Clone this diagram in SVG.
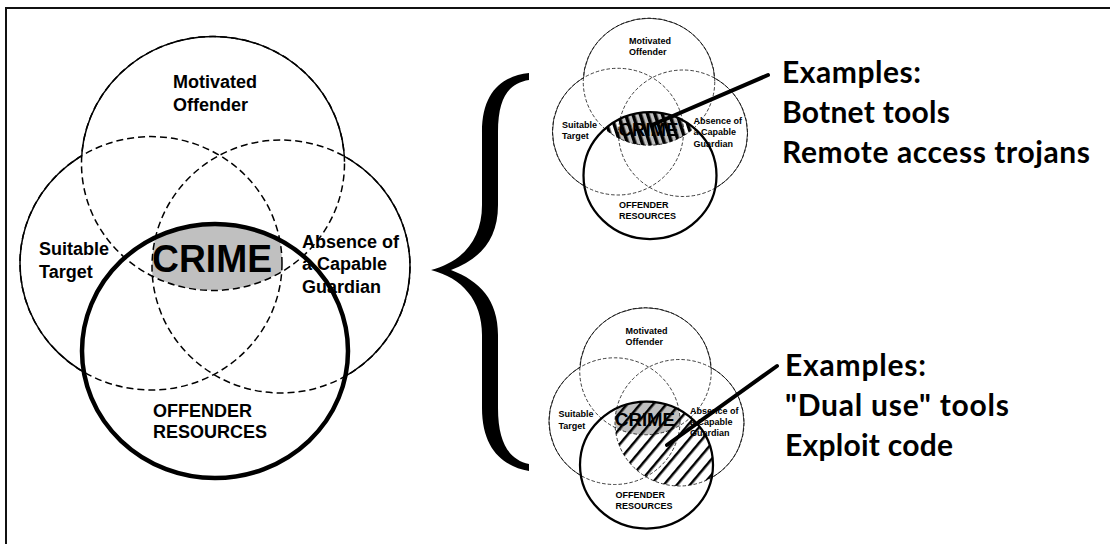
<svg xmlns="http://www.w3.org/2000/svg" xmlns:xlink="http://www.w3.org/1999/xlink" width="1110" height="544" viewBox="0 0 1110 544">
  <style>
    .lbl { font-family: "Liberation Sans", Arial, sans-serif; font-weight: bold; font-size: 18px; fill: #000; }
    .crime { font-family: "Liberation Sans", Arial, sans-serif; font-weight: bold; font-size: 38px; fill: #000; }
    .ex { font-family: Lato, "Open Sans", sans-serif; font-weight: bold; font-size: 30px; fill: #000; }
    .thin { fill: none; stroke: #000; stroke-width: 1.5; }
    .dash { fill: none; stroke: #000; stroke-width: 1.5; stroke-dasharray: 7 4; }
    .thick { fill: none; stroke: #000; stroke-width: 4.5; }
    .conn { stroke: #000; stroke-width: 4; stroke-linecap: round; fill: none; }
  </style>
  <defs>
    <!-- the four overlapping sets, in base (large) coordinates -->
    <ellipse id="eM" cx="213" cy="163.5" rx="131.5" ry="127"/>
    <ellipse id="eL" cx="151" cy="263.3" rx="131" ry="126.7"/>
    <ellipse id="eR" cx="281" cy="266.5" rx="129" ry="126.5"/>
    <ellipse id="eT" cx="215" cy="351" rx="133" ry="127"/>

    <clipPath id="cM" clipPathUnits="userSpaceOnUse"><use href="#eM"/></clipPath>
    <clipPath id="cL" clipPathUnits="userSpaceOnUse"><use href="#eL"/></clipPath>
    <clipPath id="cR" clipPathUnits="userSpaceOnUse"><use href="#eR"/></clipPath>
    <clipPath id="cT" clipPathUnits="userSpaceOnUse"><use href="#eT"/></clipPath>

    <!-- solid outline only where a set lies outside all the others -->
    <mask id="outM" maskUnits="userSpaceOnUse" x="-50" y="-50" width="600" height="650">
      <rect x="-50" y="-50" width="600" height="650" fill="#fff"/>
      <use href="#eL" fill="#000"/><use href="#eR" fill="#000"/><use href="#eT" fill="#000"/>
    </mask>
    <mask id="outL" maskUnits="userSpaceOnUse" x="-50" y="-50" width="600" height="650">
      <rect x="-50" y="-50" width="600" height="650" fill="#fff"/>
      <use href="#eM" fill="#000"/><use href="#eR" fill="#000"/><use href="#eT" fill="#000"/>
    </mask>
    <mask id="outR" maskUnits="userSpaceOnUse" x="-50" y="-50" width="600" height="650">
      <rect x="-50" y="-50" width="600" height="650" fill="#fff"/>
      <use href="#eM" fill="#000"/><use href="#eL" fill="#000"/><use href="#eT" fill="#000"/>
    </mask>

    <pattern id="hatchA" patternUnits="userSpaceOnUse" width="14" height="14" patternTransform="rotate(-18)">
      <rect x="0" y="0" width="7" height="14" fill="#000"/>
    </pattern>
    <pattern id="hatchB" patternUnits="userSpaceOnUse" width="20" height="20" patternTransform="rotate(40)">
      <rect x="0" y="0" width="5" height="20" fill="#000"/>
    </pattern>

    <!-- shaded CRIME area: intersection of all four sets -->
    <g id="crimeFill">
      <g clip-path="url(#cM)"><g clip-path="url(#cL)"><g clip-path="url(#cR)">
        <use href="#eT" fill="#c0c0c0"/>
      </g></g></g>
    </g>

    <!-- outlines of the four sets -->
    <g id="outlines">
      <use href="#eM" class="dash"/>
      <use href="#eL" class="dash"/>
      <use href="#eR" class="dash"/>
      <use href="#eM" class="thin" mask="url(#outM)"/>
      <use href="#eL" class="thin" mask="url(#outL)"/>
      <use href="#eR" class="thin" mask="url(#outR)"/>
      <use href="#eT" class="thick"/>
    </g>
  </defs>

  <!-- frame -->
  <g id="frame">
    <path d="M6,544 V8 H1110" fill="none" stroke="#111" stroke-width="2"/>
  </g>

  <!-- large routine-activity diagram -->
  <g id="venn-main">
    <use href="#crimeFill"/>
    <use href="#outlines"/>
    <text class="lbl" x="173" y="88">Motivated</text>
    <text class="lbl" x="173" y="110.5">Offender</text>
    <text class="lbl" x="39" y="255">Suitable</text>
    <text class="lbl" x="39" y="278">Target</text>
    <text class="lbl" x="302" y="248">Absence of</text>
    <text class="lbl" x="302" y="270">a Capable</text>
    <text class="lbl" x="302" y="293">Guardian</text>
    <text class="lbl" x="153" y="416.5">OFFENDER</text>
    <text class="lbl" x="153" y="438">RESOURCES</text>
    <text class="crime" x="152" y="272" textLength="120" lengthAdjust="spacingAndGlyphs">CRIME</text>
  </g>

  <!-- brace -->
  <g id="brace">
    <path d="M529,73 C502,76 482,92 482,132 L482,205 C482,240 462,262 431,270 C462,278 482,300 482,335 L482,408 C482,448 502,466 529,471 L529,464 C510,460 498,444 498,408 L498,335 C498,300 480,281 451,270 C480,259 498,240 498,205 L498,132 C498,96 510,83 529,80 Z" fill="#000"/>
  </g>

  <!-- small diagram: tools overlapping offender motivation -->
  <g id="venn-top" transform="translate(542.5,0) scale(0.5)">
    <use href="#crimeFill"/>
    <g clip-path="url(#cM)"><g clip-path="url(#cT)">
      <rect x="60" y="200" width="320" height="130" fill="url(#hatchA)"/>
    </g></g>
    <use href="#outlines"/>
    <text class="lbl" x="173" y="88">Motivated</text>
    <text class="lbl" x="173" y="110.5">Offender</text>
    <text class="lbl" x="39" y="255">Suitable</text>
    <text class="lbl" x="39" y="278">Target</text>
    <text class="lbl" x="302" y="248">Absence of</text>
    <text class="lbl" x="302" y="270">a Capable</text>
    <text class="lbl" x="302" y="293">Guardian</text>
    <text class="lbl" x="153" y="416.5">OFFENDER</text>
    <text class="lbl" x="153" y="438">RESOURCES</text>
    <text class="crime" x="152" y="272" textLength="120" lengthAdjust="spacingAndGlyphs">CRIME</text>
  </g>

  <!-- small diagram: tools overlapping absence of guardianship -->
  <g id="venn-bottom" transform="translate(539,289.5) scale(0.5)">
    <use href="#crimeFill"/>
    <g clip-path="url(#cR)"><g clip-path="url(#cT)">
      <rect x="140" y="200" width="300" height="220" fill="url(#hatchB)"/>
    </g></g>
    <use href="#outlines"/>
    <text class="lbl" x="173" y="88">Motivated</text>
    <text class="lbl" x="173" y="110.5">Offender</text>
    <text class="lbl" x="39" y="255">Suitable</text>
    <text class="lbl" x="39" y="278">Target</text>
    <text class="lbl" x="302" y="248">Absence of</text>
    <text class="lbl" x="302" y="270">a Capable</text>
    <text class="lbl" x="302" y="293">Guardian</text>
    <text class="lbl" x="153" y="416.5">OFFENDER</text>
    <text class="lbl" x="153" y="438">RESOURCES</text>
    <text class="crime" x="152" y="272" textLength="120" lengthAdjust="spacingAndGlyphs">CRIME</text>
  </g>

  <!-- pointer lines from example lists into the hatched regions -->
  <g id="connectors">
    <line class="conn" x1="768" y1="75" x2="652" y2="125"/>
    <line class="conn" x1="777" y1="366" x2="667" y2="445"/>
  </g>

  <g id="examples-top">
    <text class="ex" x="782" y="83" textLength="139">Examples:</text>
    <text class="ex" x="782" y="123" textLength="168">Botnet tools</text>
    <text class="ex" x="782" y="163" textLength="308">Remote access trojans</text>
  </g>

  <g id="examples-bottom">
    <text class="ex" x="785" y="376" textLength="141">Examples:</text>
    <text class="ex" x="785" y="416" textLength="224">"Dual use" tools</text>
    <text class="ex" x="785" y="456" textLength="168">Exploit code</text>
  </g>
</svg>
